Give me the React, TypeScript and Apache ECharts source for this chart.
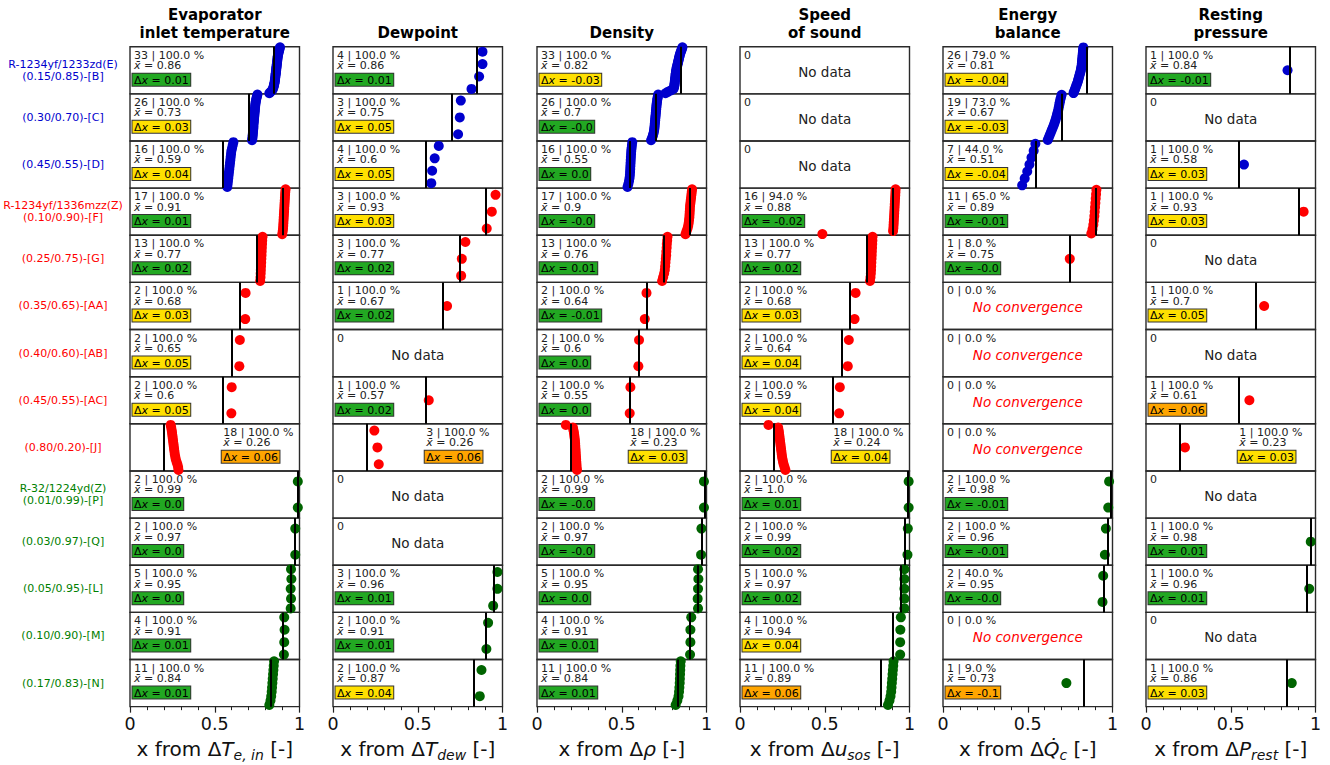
import React, { useEffect, useRef } from "react";
import * as echarts from "echarts";

const FONT = "DejaVu Sans";

const ROW_LABELS = [
  "R-1234yf/1233zd(E)\n(0.15/0.85)-[B]",
  "(0.30/0.70)-[C]",
  "(0.45/0.55)-[D]",
  "R-1234yf/1336mzz(Z)\n(0.10/0.90)-[F]",
  "(0.25/0.75)-[G]",
  "(0.35/0.65)-[AA]",
  "(0.40/0.60)-[AB]",
  "(0.45/0.55)-[AC]",
  "(0.80/0.20)-[J]",
  "R-32/1224yd(Z)\n(0.01/0.99)-[P]",
  "(0.03/0.97)-[Q]",
  "(0.05/0.95)-[L]",
  "(0.10/0.90)-[M]",
  "(0.17/0.83)-[N]",
];
const ROW_GROUP = [0, 0, 0, 1, 1, 1, 1, 1, 1, 2, 2, 2, 2, 2];
const TRUE_X = [0.85, 0.7, 0.55, 0.9, 0.75, 0.65, 0.6, 0.55, 0.2, 0.99, 0.97, 0.95, 0.9, 0.83];
const COLUMN_TITLES = [
  "Evaporator\ninlet temperature",
  "Dewpoint",
  "Density",
  "Speed\nof sound",
  "Energy\nbalance",
  "Resting\npressure",
];
const AXIS_NAMES = [
  "{n|x from Δ}{i|T}{s|e, in}{n| [-]}",
  "{n|x from Δ}{i|T}{s|dew}{n| [-]}",
  "{n|x from Δ}{i|ρ}{n| [-]}",
  "{n|x from Δ}{i|u}{s|sos}{n| [-]}",
  "{n|x from Δ}{i|Q\u0307}{s|c}{n| [-]}",
  "{n|x from Δ}{i|P}{s|rest}{n| [-]}",
];

// ---- Evaporator inlet temperature ----
const evapCount = [33, 26, 16, 17, 13, 2, 2, 2, 18, 2, 2, 5, 4, 11];
const evapPct = [100, 100, 100, 100, 100, 100, 100, 100, 100, 100, 100, 100, 100, 100];
const evapMean = ["0.86", "0.73", "0.59", "0.91", "0.77", "0.68", "0.65", "0.6", "0.26", "0.99", "0.97", "0.95", "0.91", "0.84"];
const evapDx = ["0.01", "0.03", "0.04", "0.01", "0.02", "0.03", "0.05", "0.05", "0.06", "0.0", "0.0", "0.0", "0.01", "0.01"];
const evapPoints = [
  [0.885, 0.882, 0.88, 0.878, 0.876, 0.874, 0.872, 0.871, 0.87, 0.869, 0.868, 0.867, 0.866, 0.865, 0.864, 0.863, 0.862, 0.861, 0.86, 0.859, 0.858, 0.857, 0.856, 0.855, 0.854, 0.852, 0.85, 0.848, 0.846, 0.843, 0.838, 0.83, 0.822],
  [0.752, 0.749, 0.746, 0.744, 0.742, 0.74, 0.739, 0.738, 0.737, 0.736, 0.735, 0.734, 0.733, 0.732, 0.731, 0.73, 0.729, 0.728, 0.728, 0.727, 0.726, 0.725, 0.724, 0.723, 0.722, 0.72],
  [0.61, 0.606, 0.602, 0.598, 0.596, 0.594, 0.592, 0.59, 0.588, 0.586, 0.584, 0.582, 0.58, 0.578, 0.576, 0.574],
  [0.918, 0.916, 0.915, 0.914, 0.913, 0.912, 0.911, 0.91, 0.909, 0.908, 0.907, 0.906, 0.905, 0.904, 0.903, 0.901, 0.898],
  [0.782, 0.78, 0.779, 0.778, 0.777, 0.776, 0.775, 0.774, 0.773, 0.772, 0.771, 0.77, 0.768],
  [0.682, 0.68],
  [0.648, 0.645],
  [0.6, 0.598],
  [0.24, 0.243, 0.246, 0.248, 0.25, 0.252, 0.254, 0.256, 0.258, 0.26, 0.262, 0.264, 0.267, 0.27, 0.275, 0.28, 0.284, 0.286],
  [0.99, 0.99],
  [0.975, 0.975],
  [0.95, 0.952, 0.948, 0.95, 0.948],
  [0.91, 0.912, 0.91, 0.908],
  [0.85, 0.848, 0.846, 0.844, 0.842, 0.84, 0.838, 0.836, 0.833, 0.829, 0.822],
];

// ---- Dewpoint ----
const dewCount = [4, 3, 4, 3, 3, 1, 0, 1, 3, 0, 0, 3, 2, 2];
const dewPct = [100, 100, 100, 100, 100, 100, null, 100, 100, null, null, 100, 100, 100];
const dewMean = ["0.86", "0.75", "0.6", "0.93", "0.77", "0.67", "", "0.57", "0.26", "", "", "0.96", "0.91", "0.87"];
const dewDx = ["0.01", "0.05", "0.05", "0.03", "0.02", "0.02", "", "0.02", "0.06", "", "", "0.01", "0.01", "0.04"];
const dewPoints = [
  [0.882, 0.882, 0.862, 0.817],
  [0.754, 0.748, 0.738],
  [0.624, 0.6, 0.585, 0.58],
  [0.959, 0.937, 0.907],
  [0.781, 0.76, 0.756],
  [0.673],
  [],
  [0.565],
  [0.244, 0.262, 0.27],
  [],
  [],
  [0.97, 0.97, 0.945],
  [0.915, 0.905],
  [0.876, 0.866],
];

// ---- Density ----
const rhoCount = [33, 26, 16, 17, 13, 2, 2, 2, 18, 2, 2, 5, 4, 11];
const rhoPct = [100, 100, 100, 100, 100, 100, 100, 100, 100, 100, 100, 100, 100, 100];
const rhoMean = ["0.82", "0.7", "0.55", "0.9", "0.76", "0.64", "0.6", "0.55", "0.23", "0.99", "0.97", "0.95", "0.91", "0.84"];
const rhoDx = ["-0.03", "-0.0", "0.0", "-0.0", "0.01", "-0.01", "0.0", "0.0", "0.03", "-0.0", "-0.0", "0.0", "0.01", "0.01"];
const rhoPoints = [
  [0.858, 0.855, 0.852, 0.849, 0.846, 0.843, 0.841, 0.839, 0.837, 0.835, 0.833, 0.831, 0.829, 0.827, 0.825, 0.823, 0.822, 0.82, 0.819, 0.818, 0.817, 0.816, 0.815, 0.814, 0.813, 0.812, 0.811, 0.81, 0.808, 0.805, 0.79, 0.772, 0.758],
  [0.715, 0.713, 0.711, 0.709, 0.708, 0.706, 0.705, 0.704, 0.703, 0.702, 0.701, 0.7, 0.699, 0.698, 0.697, 0.696, 0.695, 0.694, 0.693, 0.692, 0.69, 0.688, 0.685, 0.682, 0.678, 0.673],
  [0.562, 0.56, 0.558, 0.556, 0.555, 0.554, 0.553, 0.552, 0.551, 0.55, 0.549, 0.548, 0.546, 0.543, 0.539, 0.534],
  [0.915, 0.913, 0.911, 0.909, 0.907, 0.905, 0.903, 0.902, 0.901, 0.9, 0.899, 0.897, 0.895, 0.892, 0.888, 0.882, 0.876],
  [0.77, 0.768, 0.766, 0.765, 0.763, 0.762, 0.76, 0.758, 0.756, 0.754, 0.75, 0.744, 0.738],
  [0.646, 0.636],
  [0.602, 0.598],
  [0.551, 0.547],
  [0.17, 0.212, 0.215, 0.218, 0.22, 0.222, 0.224, 0.225, 0.226, 0.227, 0.228, 0.229, 0.23, 0.231, 0.232, 0.233, 0.234, 0.236],
  [0.985, 0.985],
  [0.97, 0.968],
  [0.95, 0.952, 0.95, 0.948, 0.95],
  [0.91, 0.905, 0.905, 0.903],
  [0.848, 0.846, 0.845, 0.844, 0.843, 0.842, 0.84, 0.838, 0.835, 0.828, 0.818],
];

// ---- Speed of sound ----
const sosCount = [0, 0, 0, 16, 13, 2, 2, 2, 18, 2, 2, 5, 4, 11];
const sosPct = [null, null, null, 94, 100, 100, 100, 100, 100, 100, 100, 100, 100, 100];
const sosMean = ["", "", "", "0.88", "0.77", "0.68", "0.64", "0.59", "0.24", "1.0", "0.99", "0.97", "0.94", "0.89"];
const sosDx = ["", "", "", "-0.02", "0.02", "0.03", "0.04", "0.04", "0.04", "0.01", "0.02", "0.02", "0.04", "0.06"];
const sosPoints = [
  [],
  [],
  [],
  [0.918, 0.917, 0.916, 0.915, 0.914, 0.913, 0.912, 0.911, 0.91, 0.909, 0.908, 0.907, 0.906, 0.905, 0.903, 0.486],
  [0.782, 0.781, 0.78, 0.779, 0.778, 0.777, 0.776, 0.775, 0.774, 0.773, 0.772, 0.77, 0.767],
  [0.682, 0.676],
  [0.642, 0.636],
  [0.589, 0.585],
  [0.168, 0.225, 0.228, 0.23, 0.232, 0.234, 0.236, 0.238, 0.24, 0.242, 0.244, 0.246, 0.248, 0.251, 0.254, 0.258, 0.263, 0.268],
  [0.995, 0.995],
  [0.99, 0.988],
  [0.97, 0.97, 0.97, 0.97, 0.97],
  [0.949, 0.946, 0.945, 0.945],
  [0.906, 0.904, 0.902, 0.9, 0.898, 0.896, 0.894, 0.892, 0.888, 0.882, 0.873],
];

// ---- Energy balance ----
const engCount = [26, 19, 7, 11, 1, 0, 0, 0, 0, 2, 2, 2, 0, 1];
const engPct = [79, 73, 44, 65, 8, 0, 0, 0, 0, 100, 100, 40, 0, 9];
const engMean = ["0.81", "0.67", "0.51", "0.89", "0.75", "", "", "", "", "0.98", "0.96", "0.95", "", "0.73"];
const engDx = ["-0.04", "-0.03", "-0.04", "-0.01", "-0.0", "", "", "", "", "-0.01", "-0.01", "-0.0", "", "-0.1"];
const engPoints = [
  [0.828, 0.827, 0.826, 0.825, 0.824, 0.823, 0.822, 0.821, 0.82, 0.819, 0.818, 0.816, 0.814, 0.812, 0.809, 0.806, 0.803, 0.8, 0.797, 0.794, 0.79, 0.786, 0.782, 0.778, 0.774, 0.77],
  [0.7, 0.696, 0.692, 0.689, 0.686, 0.683, 0.68, 0.676, 0.672, 0.668, 0.664, 0.659, 0.654, 0.648, 0.642, 0.636, 0.63, 0.624, 0.618],
  [0.545, 0.535, 0.522, 0.51, 0.497, 0.482, 0.467],
  [0.905, 0.903, 0.901, 0.899, 0.897, 0.895, 0.893, 0.89, 0.887, 0.882, 0.875],
  [0.748],
  [],
  [],
  [],
  [],
  [0.98, 0.975],
  [0.961, 0.955],
  [0.945, 0.941],
  [],
  [0.728],
];

// ---- Resting pressure ----
const restCount = [1, 0, 1, 1, 0, 1, 0, 1, 1, 0, 1, 1, 0, 1];
const restPct = [100, null, 100, 100, null, 100, null, 100, 100, null, 100, 100, null, 100];
const restMean = ["0.84", "", "0.58", "0.93", "", "0.7", "", "0.61", "0.23", "", "0.98", "0.96", "", "0.86"];
const restDx = ["-0.01", "", "0.03", "0.03", "", "0.05", "", "0.06", "0.03", "", "0.01", "0.01", "", "0.03"];
const restPoints = [[0.835], [], [0.578], [0.93], [], [0.697], [], [0.61], [0.23], [], [0.972], [0.963], [], [0.86]];

const COLUMNS = [
  { count: evapCount, pct: evapPct, mean: evapMean, dx: evapDx, pts: evapPoints },
  { count: dewCount, pct: dewPct, mean: dewMean, dx: dewDx, pts: dewPoints },
  { count: rhoCount, pct: rhoPct, mean: rhoMean, dx: rhoDx, pts: rhoPoints },
  { count: sosCount, pct: sosPct, mean: sosMean, dx: sosDx, pts: sosPoints },
  { count: engCount, pct: engPct, mean: engMean, dx: engDx, pts: engPoints },
  { count: restCount, pct: restPct, mean: restMean, dx: restDx, pts: restPoints },
];

const PT_COLORS = ["#0000cd", "#ff0000", "#006400"];
const LABEL_COLORS = ["#0000cd", "#ff0000", "#008000"];

// layout
const COL_LEFT = [130, 333, 537, 740, 943, 1146];
const PANEL_W = 169.5;
const TOP = 46.7;
const ROW_H = 47.14;

function tok(size: number, italic = false, extra: any = {}) {
  return { fontSize: size, fontFamily: FONT, fontStyle: italic ? "italic" : "normal", ...extra };
}

function dxColor(s: string) {
  const v = Math.abs(parseFloat(s));
  if (v <= 0.025) return "#22a822";
  if (v <= 0.055) return "#ffe000";
  return "#ffa500";
}

function buildOption() {
  const grid: any[] = [];
  const xAxis: any[] = [];
  const yAxis: any[] = [];
  const series: any[] = [];
  const graphic: any[] = [];
  const nRows = ROW_LABELS.length;

  COLUMNS.forEach((col, c) => {
    for (let r = 0; r < nRows; r++) {
      const idx = grid.length;
      const left = COL_LEFT[c];
      const top = TOP + r * ROW_H;
      const isBottom = r === nRows - 1;
      grid.push({
        left,
        top,
        width: PANEL_W,
        height: ROW_H,
        show: true,
        borderColor: "#2a2a2a",
        borderWidth: 1.4,
        backgroundColor: "transparent",
      });
      xAxis.push({
        gridIndex: idx,
        type: "value",
        position: "bottom",
        min: 0,
        max: 1,
        interval: 0.5,
        axisLine: { show: false, onZero: false },
        splitLine: { show: false },
        axisTick: { show: isBottom, inside: false, length: 6, lineStyle: { color: "#222", width: 1.2 } },
        minorTick: { show: isBottom, splitNumber: 5, length: 3.5, lineStyle: { color: "#222", width: 1 } },
        minorSplitLine: { show: false },
        axisLabel: {
          show: isBottom,
          fontSize: 17.5,
          color: "#111",
          fontFamily: FONT,
          margin: 8,
          showMinLabel: true,
          showMaxLabel: true,
        },
        name: isBottom ? AXIS_NAMES[c] : "",
        nameLocation: "middle",
        nameGap: 29,
        nameTextStyle: {
          color: "#111",
          fontSize: 20,
          fontFamily: FONT,
          rich: {
            n: tok(20, false, { lineHeight: 26, color: "#111" }),
            i: tok(20, true, { lineHeight: 26, color: "#111" }),
            s: tok(14, true, { lineHeight: 13, verticalAlign: "bottom", color: "#111" }),
          },
        },
      });
      const pts = col.pts[r];
      const n = pts.length;
      yAxis.push({
        gridIndex: idx,
        type: "value",
        min: n <= 1 ? -0.5 : -0.4,
        max: n <= 1 ? 0.5 : n - 1 + 0.4,
        inverse: true,
        show: false,
        splitLine: { show: false },
      });

      const pct = col.pct[r];
      const color = PT_COLORS[ROW_GROUP[r]];
      if (n > 0) {
        series.push({
          type: "scatter",
          xAxisIndex: idx,
          yAxisIndex: idx,
          data: pts.map((v, i) => [v, i]),
          symbolSize: 10,
          itemStyle: { color, opacity: 1 },
          silent: true,
          z: 2,
          markLine: {
            silent: true,
            symbol: ["none", "none"],
            label: { show: false },
            lineStyle: { color: "#000", width: 2, type: "solid" },
            emphasis: { disabled: true },
            data: [{ xAxis: TRUE_X[r] }],
            z: 5,
          },
        });
      }

      // texts
      const tx = left + (r === 8 && n > 0 ? 0.55 * PANEL_W : 4);
      if (pct === null) {
        graphic.push({
          type: "text",
          x: tx,
          y: top + 3,
          z: 20,
          style: { text: "0", fontSize: 11, fontFamily: FONT, fill: "#222" },
        });
        graphic.push({
          type: "text",
          x: left + PANEL_W / 2,
          y: top + 25,
          z: 20,
          style: {
            text: "No data",
            fontSize: 13.5,
            fontFamily: FONT,
            fill: "#222",
            align: "center",
            verticalAlign: "middle",
          },
        });
      } else {
        graphic.push({
          type: "text",
          x: tx,
          y: top + 3,
          z: 20,
          style: {
            text: `${col.count[r]} | ${pct.toFixed(1)} %`,
            fontSize: 11,
            fontFamily: FONT,
            fill: "#222",
          },
        });
        if (n === 0) {
          graphic.push({
            type: "text",
            x: left + PANEL_W / 2,
            y: top + 25,
            z: 20,
            style: {
              text: "No convergence",
              fontSize: 13.5,
              fontFamily: FONT,
              fontStyle: "italic",
              fill: "#ff0000",
              align: "center",
              verticalAlign: "middle",
            },
          });
        } else {
          graphic.push({
            type: "text",
            x: tx,
            y: top + 13.5,
            z: 20,
            style: {
              text: `{i|x\u0304}{n| = ${col.mean[r]}}`,
              fontSize: 11,
              fontFamily: FONT,
              fill: "#222",
              rich: {
                i: tok(11, true, { fill: "#222" }),
                n: tok(11, false, { fill: "#222" }),
              },
            },
          });
          graphic.push({
            type: "text",
            x: tx - 1.5,
            y: top + 27,
            z: 20,
            style: {
              text: `{n|Δ}{i|x}{n| = ${col.dx[r]}}`,
              fontSize: 11,
              fontFamily: FONT,
              fill: "#000",
              backgroundColor: dxColor(col.dx[r]),
              borderColor: "#333",
              borderWidth: 1,
              padding: [1, 1.5, 0, 1.5],
              rich: {
                i: tok(11, true, { fill: "#000", lineHeight: 11 }),
                n: tok(11, false, { fill: "#000", lineHeight: 11 }),
              },
            },
          });
        }
      }
    }
  });

  // row labels
  ROW_LABELS.forEach((lab, r) => {
    graphic.push({
      type: "text",
      x: 63,
      y: TOP + r * ROW_H + ROW_H / 2,
      z: 20,
      style: {
        text: lab,
        fontSize: 11,
        fontFamily: FONT,
        fill: LABEL_COLORS[ROW_GROUP[r]],
        align: "center",
        verticalAlign: "middle",
        lineHeight: 12.5,
      },
    });
  });

  // column titles (bottom-aligned like the reference)
  COLUMN_TITLES.forEach((t, c) => {
    graphic.push({
      type: "text",
      x: COL_LEFT[c] + PANEL_W / 2,
      y: 42,
      z: 20,
      style: {
        text: t,
        fontSize: 15,
        fontWeight: "bold",
        fontFamily: FONT,
        fill: "#000",
        align: "center",
        verticalAlign: "bottom",
        lineHeight: 18,
      },
    });
  });

  return {
    animation: false,
    backgroundColor: "#ffffff",
    textStyle: { fontFamily: FONT },
    grid,
    xAxis,
    yAxis,
    series,
    graphic: { elements: graphic },
  };
}

export default function App() {
  const ref = useRef<HTMLDivElement>(null);
  useEffect(() => {
    if (!ref.current) return;
    const chart = echarts.init(ref.current, undefined, { renderer: "svg" });
    chart.setOption(buildOption() as any);
    return () => chart.dispose();
  }, []);
  return (
    <div
      ref={ref}
      style={{ position: "absolute", left: 0, top: 0, width: 1330, height: 765, background: "#fff" }}
    />
  );
}
